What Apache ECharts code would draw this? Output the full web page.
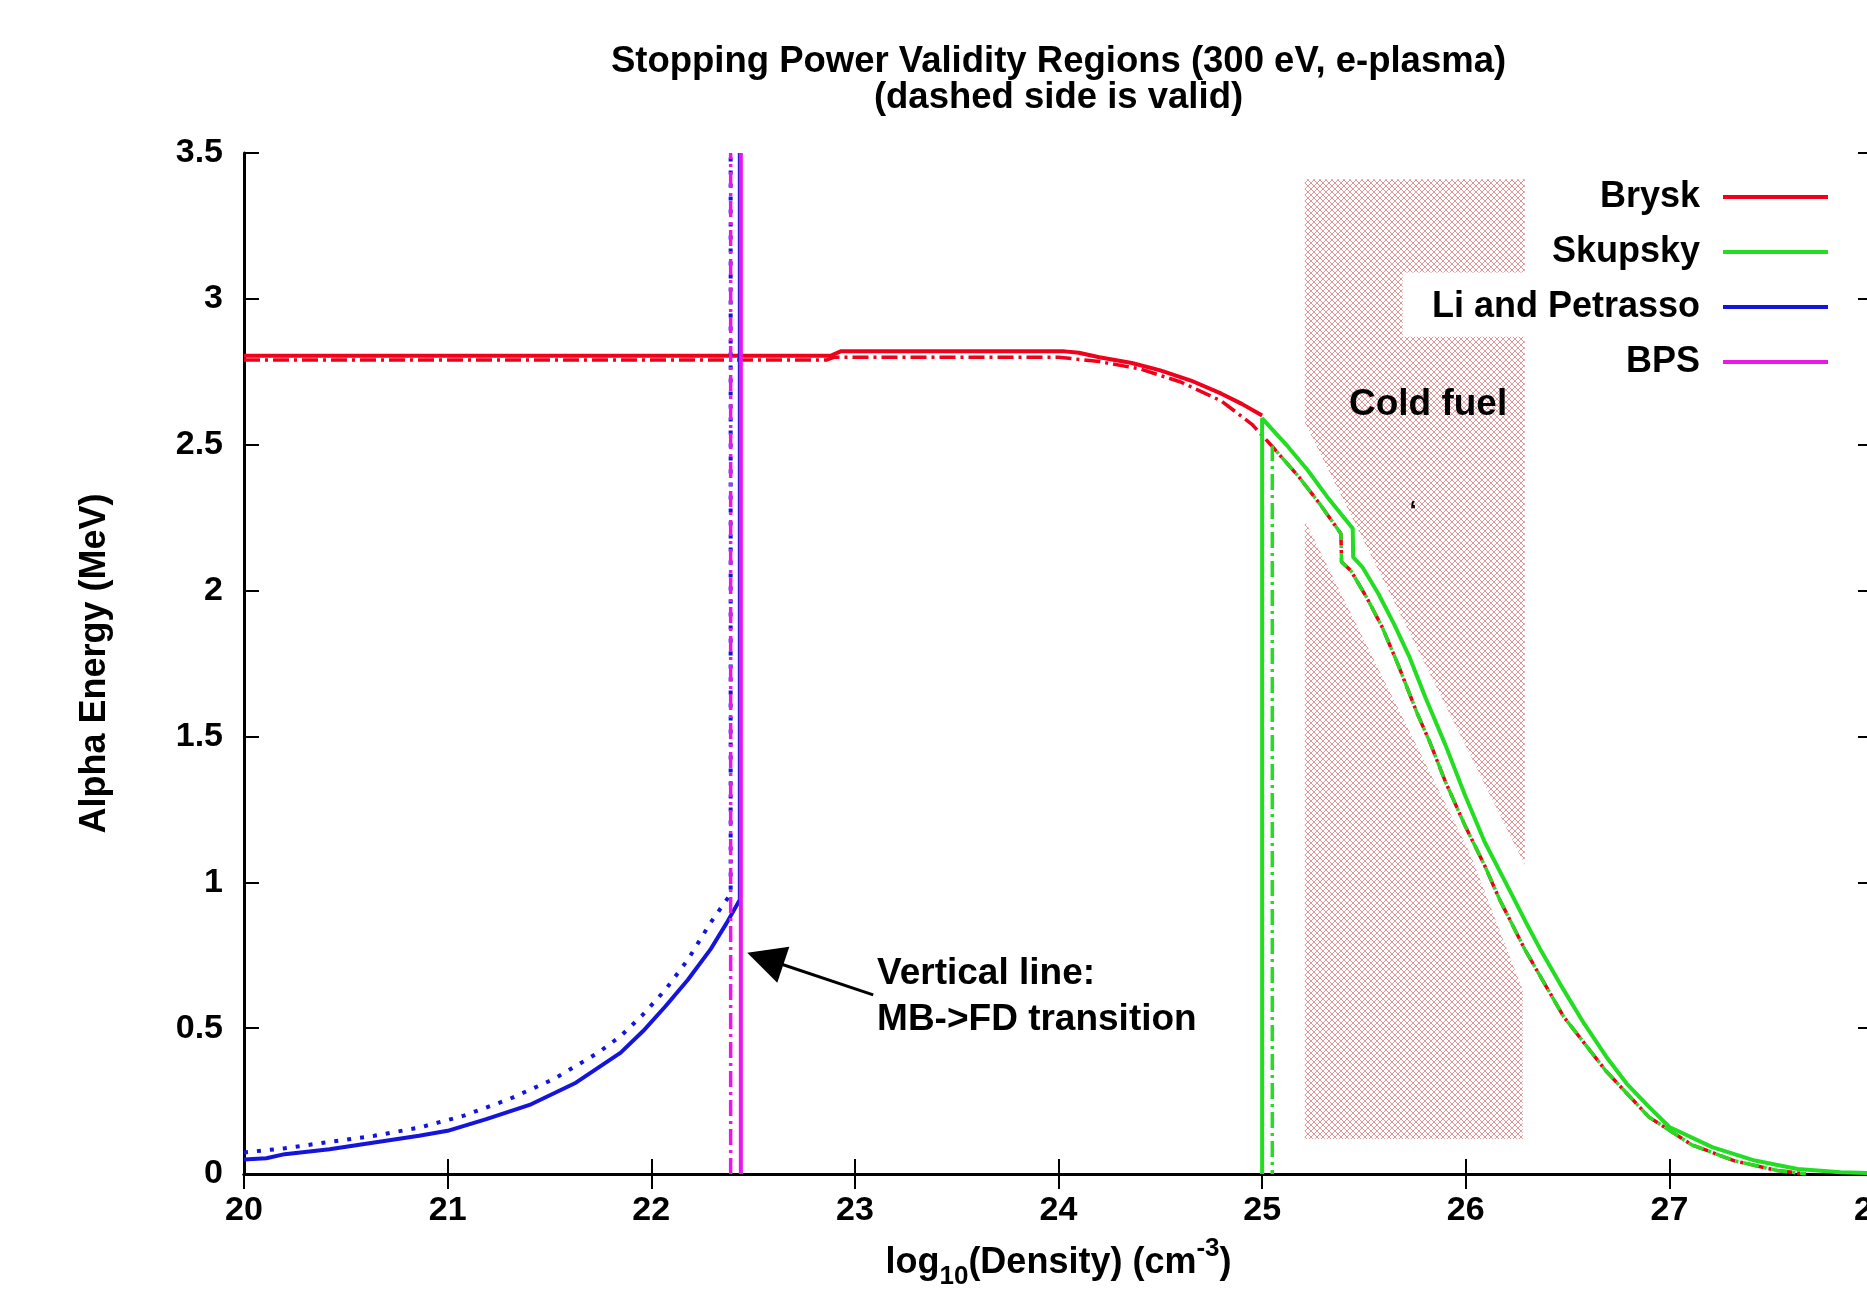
<!DOCTYPE html>
<html>
<head>
<meta charset="utf-8">
<title>Stopping Power Validity Regions</title>
<script src="https://cdn.jsdelivr.net/npm/echarts@6.0.0/dist/echarts.min.js"></script>
<style>
html, body { margin: 0; padding: 0; background: #fff; }
#main { width: 1867px; height: 1297px; }
</style>
</head>
<body>
<div id="main"></div>
<script>
var FONT = '"Liberation Sans", Arial, Helvetica, sans-serif';

// axis ticks
var xTicks = [20, 21, 22, 23, 24, 25, 26, 27, 28];
var yTicks = [0, 0.5, 1, 1.5, 2, 2.5, 3, 3.5];

// Brysk, solid
var bryskX = [20, 22.88, 22.93, 24.03, 24.1, 24.2, 24.36, 24.5, 24.65, 24.8, 24.9, 25.0];
var bryskY = [2.805, 2.805, 2.82, 2.82, 2.815, 2.80, 2.78, 2.755, 2.72, 2.675, 2.64, 2.60];
// Brysk, dash-dot (first part)
var bryskDashX = [20, 22.86, 22.9, 24.0, 24.2, 24.4, 24.6, 24.8, 24.95];
var bryskDashY = [2.79, 2.79, 2.80, 2.80, 2.785, 2.76, 2.715, 2.65, 2.57];
// dash-dot tail shared by Brysk and Skupsky
var tailX = [25.05, 25.18, 25.28, 25.387, 25.39, 25.435, 25.513, 25.59, 25.667, 25.764, 25.822, 25.9, 25.996, 26.093, 26.165, 26.29, 26.48, 26.69, 26.9, 27.11, 27.32, 27.53, 27.67];
var tailY = [2.494, 2.39, 2.30, 2.195, 2.098, 2.069, 1.977, 1.874, 1.747, 1.575, 1.483, 1.345, 1.195, 1.057, 0.943, 0.77, 0.54, 0.352, 0.195, 0.10, 0.045, 0.012, 0.0];

// Skupsky, solid
var skupskyX = [25.0, 25.0, 25.126, 25.222, 25.319, 25.445, 25.447, 25.493, 25.571, 25.648, 25.725, 25.803, 25.9, 25.996, 26.093, 26.21, 26.29, 26.37, 26.48, 26.58, 26.69, 26.79, 26.9, 27.0, 27.21, 27.42, 27.63, 27.84, 28.0];
var skupskyY = [0, 2.59, 2.494, 2.414, 2.322, 2.213, 2.115, 2.08, 1.989, 1.885, 1.77, 1.632, 1.471, 1.299, 1.138, 0.98, 0.87, 0.765, 0.632, 0.517, 0.402, 0.31, 0.23, 0.161, 0.092, 0.046, 0.017, 0.006, 0.003];
// Skupsky, dash-dot (vertical part)
var skupskyDashX = [25.05];
var skupskyDashY = [0];

// Li and Petrasso, solid and dotted
var liX = [20.0, 20.11, 20.2, 20.42, 20.64, 20.86, 21.0, 21.19, 21.41, 21.63, 21.85, 21.96, 22.07, 22.18, 22.29, 22.37, 22.435, 22.435];
var liY = [0.05, 0.054, 0.068, 0.085, 0.108, 0.131, 0.148, 0.188, 0.239, 0.313, 0.416, 0.49, 0.575, 0.666, 0.769, 0.86, 0.94, 3.5];
var liDotX = [20.0, 20.2, 20.42, 20.64, 20.86, 21.08, 21.3, 21.52, 21.74, 21.85, 21.96, 22.07, 22.18, 22.29, 22.37, 22.39, 22.39];
var liDotY = [0.074, 0.088, 0.11, 0.131, 0.159, 0.2, 0.256, 0.325, 0.416, 0.473, 0.547, 0.632, 0.735, 0.86, 0.94, 0.96, 3.5];

// BPS, solid and dash-dot (vertical lines)
var bpsX = [22.44, 22.44];
var bpsY = [0, 3.5];
var bpsDashX = [22.39, 22.39];
var bpsDashY = [0, 3.5];

// cold fuel hatched region (data coords); last one is the white box behind the key
var hatchUpX = [25.21, 26.29, 26.29, 25.21];
var hatchUpY = [3.41, 3.41, 1.06, 2.575];
var hatchLowX = [25.21, 26.02, 26.28, 26.28, 25.21];
var hatchLowY = [2.24, 1.10, 0.63, 0.12, 0.12];
var keyBoxX = [25.69, 26.3, 26.3, 25.69];
var keyBoxY = [3.09, 3.09, 2.87, 2.87];

// arrow (tail -> head centre)
var arrowX = [23.09, 22.56];
var arrowY = [0.614, 0.738];

var RED = '#f0001a', GREEN = '#22dd22', BLUE = '#1414dc', MAGENTA = '#ea16ea';
var DASHDOT = [16, 5, 3, 5];
var DOTTED = [4, 9];

function zip(xs, ys) {
	return xs.map(function(x, i) { return [x, ys[i]]; });
}

function line(name, xs, ys, color, dash, width) {
	return {
		name: name,
		type: 'line',
		data: zip(xs, ys),
		symbol: 'none',
		showSymbol: false,
		animation: false,
		silent: true,
		emphasis: { disabled: true },
		itemStyle: { color: color },
		lineStyle: { color: color, width: width, type: dash },
		z: 3
	};
}

// crosshatch tile
var tile = document.createElement('canvas');
tile.width = 6;
tile.height = 6;
var tc = tile.getContext('2d');
tc.strokeStyle = 'rgba(205,80,80,0.75)';
tc.lineWidth = 0.8;
tc.beginPath();
tc.moveTo(0, 0); tc.lineTo(6, 6);
tc.moveTo(6, 0); tc.lineTo(0, 6);
tc.stroke();
var hatchFill = { image: tile, repeat: 'repeat' };

var polys = [
	{ x: hatchUpX, y: hatchUpY, fill: hatchFill },
	{ x: hatchLowX, y: hatchLowY, fill: hatchFill },
	{ x: keyBoxX, y: keyBoxY, fill: '#ffffff' }
];

var gridLeft = 244, gridTop = 153, gridWidth = 1629, gridHeight = 1021;

var axisLine = { show: true, lineStyle: { color: '#000', width: 3 } };
var axisTick = { show: true, inside: true, length: 15, lineStyle: { color: '#000', width: 2 } };
var labelStyle = { fontSize: 34, fontWeight: 'bold', fontFamily: FONT, color: '#000' };

var myChart = echarts.init(document.getElementById('main'));

var brysk = line('Brysk', bryskX, bryskY, RED, 'solid', 4);
var bryskDash = line('Brysk', bryskDashX.concat(tailX), bryskDashY.concat(tailY), RED, DASHDOT, 3.5);
var skupsky = line('Skupsky', skupskyX, skupskyY, GREEN, 'solid', 4);
var skupskyDash = line('Skupsky', skupskyDashX.concat(tailX), skupskyDashY.concat(tailY), GREEN, DASHDOT, 3.5);
skupskyDash.lineStyle.dashOffset = 12;
var li = line('Li and Petrasso', liX, liY, BLUE, 'solid', 4);
var liDot = line('Li and Petrasso', liDotX, liDotY, BLUE, DOTTED, 4);
var bps = line('BPS', bpsX, bpsY, MAGENTA, 'solid', 4);
var bpsDash = line('BPS', bpsDashX, bpsDashY, MAGENTA, DASHDOT, 3.5);
bps.markLine = {
	silent: true,
	animation: false,
	symbol: ['none', 'triangle'],
	symbolSize: 38,
	label: { show: false },
	lineStyle: { color: '#000', width: 3, type: 'solid' },
	itemStyle: { color: '#000' },
	data: [[{ coord: [arrowX[0], arrowY[0]] }, { coord: [arrowX[1], arrowY[1]] }]]
};

var option = {
	backgroundColor: '#fff',
	animation: false,
	title: {
		text: 'Stopping Power Validity Regions (300 eV, e-plasma)\n(dashed side is valid)',
		left: gridLeft + gridWidth / 2,
		top: 44,
		padding: 0,
		textAlign: 'center',
		textStyle: { fontSize: 36.5, fontWeight: 'bold', fontFamily: FONT, color: '#000', lineHeight: 36 }
	},
	legend: {
		data: ['Brysk', 'Skupsky', 'Li and Petrasso', 'BPS'],
		orient: 'vertical',
		right: 39,
		top: 177,
		padding: 0,
		align: 'right',
		icon: 'rect',
		itemWidth: 105,
		itemHeight: 4,
		itemGap: 15,
		selectedMode: false,
		textStyle: { fontSize: 36, fontWeight: 'bold', fontFamily: FONT, color: '#000', lineHeight: 40, padding: [0, 18, 0, 0] }
	},
	grid: {
		left: gridLeft,
		top: gridTop,
		width: gridWidth,
		height: gridHeight,
		containLabel: false,
		outerBoundsMode: 'none'
	},
	xAxis: [{
		type: 'value',
		min: xTicks[0],
		max: xTicks[xTicks.length - 1],
		interval: xTicks[1] - xTicks[0],
		position: 'bottom',
		axisLine: axisLine,
		axisTick: axisTick,
		splitLine: { show: false },
		axisLabel: Object.assign({ margin: 20 }, labelStyle),
		name: 'log{sub|10}(Density) (cm{sup|-3})',
		nameLocation: 'middle',
		nameGap: 62,
		nameTextStyle: {
			fontSize: 36, fontWeight: 'bold', fontFamily: FONT, color: '#000', lineHeight: 54,
			rich: {
				sub: { fontSize: 26, fontWeight: 'bold', fontFamily: FONT, verticalAlign: 'bottom', lineHeight: 30 },
				sup: { fontSize: 26, fontWeight: 'bold', fontFamily: FONT, verticalAlign: 'top', lineHeight: 30 }
			}
		}
	}, {
		type: 'value',
		min: xTicks[0],
		max: xTicks[xTicks.length - 1],
		interval: xTicks[1] - xTicks[0],
		position: 'top',
		axisLine: axisLine,
		axisTick: axisTick,
		splitLine: { show: false },
		axisLabel: { show: false }
	}],
	yAxis: [{
		type: 'value',
		min: yTicks[0],
		max: yTicks[yTicks.length - 1],
		interval: yTicks[1] - yTicks[0],
		position: 'left',
		axisLine: axisLine,
		axisTick: axisTick,
		splitLine: { show: false },
		axisLabel: Object.assign({ margin: 21 }, labelStyle),
		name: 'Alpha Energy (MeV)',
		nameLocation: 'middle',
		nameRotate: 90,
		nameGap: 131,
		nameTextStyle: { fontSize: 36, fontWeight: 'bold', fontFamily: FONT, color: '#000' }
	}, {
		type: 'value',
		min: yTicks[0],
		max: yTicks[yTicks.length - 1],
		interval: yTicks[1] - yTicks[0],
		position: 'right',
		axisLine: axisLine,
		axisTick: axisTick,
		splitLine: { show: false },
		axisLabel: { show: false }
	}],
	series: [{
		name: 'cold fuel',
		type: 'custom',
		z: 1,
		silent: true,
		animation: false,
		clip: true,
		data: polys.map(function(p) { return [p.x[0], p.y[0]]; }),
		renderItem: function(params, api) {
			var p = polys[params.dataIndex];
			var pts = p.x.map(function(x, i) { return api.coord([x, p.y[i]]); });
			return { type: 'polygon', shape: { points: pts }, style: { fill: p.fill, stroke: null } };
		}
	}, brysk, bryskDash, skupsky, skupskyDash, li, liDot, bps, bpsDash]
};

myChart.setOption(option);

// text labels placed in data coordinates
var notes = [
	{ at: [25.815, 2.637], text: 'Cold fuel', size: 37, align: 'center' },
	{ at: [25.742, 2.27], text: '\u2018', size: 26, align: 'center' },
	{ at: [23.109, 0.607], text: 'Vertical line:\nMB->FD transition', size: 37, align: 'left' }
];
myChart.setOption({
	graphic: notes.map(function(n) {
		var p = myChart.convertToPixel({ gridIndex: 0 }, n.at);
		return {
			type: 'text',
			x: p[0],
			y: p[1],
			z: 10,
			silent: true,
			style: {
				text: n.text,
				fill: '#000',
				font: 'bold ' + n.size + 'px ' + FONT,
				lineHeight: 46,
				textAlign: n.align,
				textVerticalAlign: 'middle'
			}
		};
	})
});
</script>
</body>
</html>
